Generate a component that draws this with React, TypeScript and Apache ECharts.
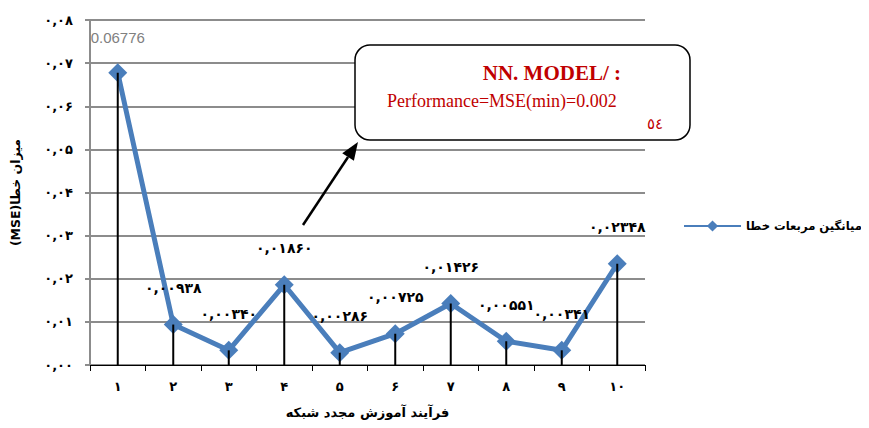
import React, { useEffect, useRef } from "react";
import * as echarts from "echarts";

const categories = ["۱", "۲", "۳", "۴", "۵", "۶", "۷", "۸", "۹", "۱۰"];
const mseValues = [0.06776, 0.00938, 0.0034, 0.0186, 0.00286, 0.00725, 0.01426, 0.00551, 0.00341, 0.02348];
const valueLabels = ["0.06776", "۰,۰۰۹۳۸", "۰,۰۰۳۴۰", "۰,۰۱۸۶۰", "۰,۰۰۲۸۶", "۰,۰۰۷۲۵", "۰,۰۱۴۲۶", "۰,۰۰۵۵۱", "۰,۰۰۳۴۱", "۰,۰۲۳۴۸"];
const yTickLabels = ["۰,۰۰", "۰,۰۱", "۰,۰۲", "۰,۰۳", "۰,۰۴", "۰,۰۵", "۰,۰۶", "۰,۰۷", "۰,۰۸"];
const seriesName = "میانگین مربعات خطا";
const xTitle = "فرآیند آموزش مجدد شبکه";
const yTitle = "(MSE)میزان خطا";
const boxTitle = "NN. MODEL/ :";
const boxLine = "Performance=MSE(min)=0.002";
const boxTail = "٥٤";

const FA = "DejaVu Sans, Arial, sans-serif";
const BLUE = "#4a7ebb";
const RED = "#c00000";

export default function App() {
  const ref = useRef<HTMLDivElement>(null);
  useEffect(() => {
    if (!ref.current) return;
    const chart = echarts.init(ref.current, undefined, { renderer: "svg" });
    const lineData = mseValues.map((v, i) =>
      i === 0
        ? {
            value: v,
            label: {
              formatter: valueLabels[i],
              color: "#808080",
              fontWeight: "normal",
              fontFamily: "Liberation Sans, Arial, sans-serif",
              fontSize: 15,
              distance: 18,
            },
          }
        : { value: v, label: { formatter: valueLabels[i] } }
    );
    // arrow geometry
    const tip = [358, 142];
    const start = [303, 225];
    const dx = tip[0] - start[0];
    const dy = tip[1] - start[1];
    const len = Math.sqrt(dx * dx + dy * dy);
    const ux = dx / len, uy = dy / len;
    const px = -uy, py = ux;
    const base = [tip[0] - 18 * ux, tip[1] - 18 * uy];
    chart.setOption({
      animation: false,
      backgroundColor: "#fff",
      grid: { left: 90, right: 224, top: 20, bottom: 63, containLabel: false },
      legend: {
        data: [seriesName],
        left: 683,
        top: 220,
        padding: 0,
        itemWidth: 57,
        itemHeight: 14,
        itemGap: 5,
        textStyle: { fontFamily: FA, fontWeight: "bold", fontSize: 11.6, color: "#000" },
      },
      xAxis: {
        type: "category",
        data: categories,
        boundaryGap: true,
        name: xTitle,
        nameLocation: "middle",
        nameGap: 41,
        nameTextStyle: { fontFamily: FA, fontWeight: "bold", fontSize: 13, color: "#000" },
        axisLine: { lineStyle: { color: "#000", width: 1 } },
        axisTick: { show: true, length: 6, lineStyle: { color: "#000" }, alignWithLabel: false },
        axisLabel: { fontFamily: FA, fontWeight: "bold", fontSize: 13, color: "#000", margin: 15 },
        splitLine: { show: false },
      },
      yAxis: {
        type: "value",
        min: 0,
        max: 0.08,
        interval: 0.01,
        name: yTitle,
        nameLocation: "middle",
        nameGap: 68,
        nameRotate: 90,
        nameTextStyle: { fontFamily: FA, fontWeight: "bold", fontSize: 12.5, color: "#000" },
        axisLine: { show: true, lineStyle: { color: "#8c8c8c", width: 2 } },
        axisTick: { show: true, length: 5, lineStyle: { color: "#8c8c8c", width: 2 } },
        axisLabel: {
          fontFamily: FA,
          fontWeight: "bold",
          fontSize: 13,
          color: "#000",
          margin: 17,
          formatter: (_v: number, idx: number) => yTickLabels[idx] ?? "",
        },
        splitLine: { show: true, lineStyle: { color: "#8c8c8c", width: 2 } },
      },
      series: [
        {
          name: seriesName,
          type: "line",
          data: lineData,
          z: 2,
          symbol: "diamond",
          symbolSize: 19,
          itemStyle: { color: BLUE },
          lineStyle: { color: BLUE, width: 5 },
          label: {
            show: true,
            position: "top",
            distance: 20,
            fontFamily: FA,
            fontWeight: "bold",
            fontSize: 14,
            color: "#000",
          },
        },
        {
          name: "drop",
          type: "bar",
          data: mseValues,
          barWidth: 2,
          z: 3,
          itemStyle: { color: "#000" },
          silent: true,
        },
      ],
      graphic: [
        {
          type: "rect",
          z: 20,
          shape: { x: 355, y: 45, width: 335, height: 95, r: 15 },
          style: { fill: "#fff", stroke: "#000", lineWidth: 1.5 },
        },
        {
          type: "text",
          z: 21,
          x: 621,
          y: 73,
          style: {
            text: boxTitle,
            fill: RED,
            font: "bold 21px 'Liberation Serif', 'Times New Roman', serif",
            textAlign: "right",
            textVerticalAlign: "middle",
          },
        },
        {
          type: "text",
          z: 21,
          x: 387,
          y: 101,
          style: {
            text: boxLine,
            fill: RED,
            font: "18px 'Liberation Serif', 'Times New Roman', serif",
            textAlign: "left",
            textVerticalAlign: "middle",
          },
        },
        {
          type: "text",
          z: 21,
          x: 655,
          y: 124,
          style: {
            text: boxTail,
            fill: RED,
            font: "15px 'DejaVu Sans', serif",
            textAlign: "center",
            textVerticalAlign: "middle",
          },
        },
        {
          type: "line",
          z: 21,
          shape: { x1: start[0], y1: start[1], x2: base[0], y2: base[1] },
          style: { stroke: "#000", lineWidth: 2.5 },
        },
        {
          type: "polygon",
          z: 21,
          shape: {
            points: [
              tip,
              [base[0] + 7 * px, base[1] + 7 * py],
              [base[0] - 7 * px, base[1] - 7 * py],
            ],
          },
          style: { fill: "#000" },
        },
      ],
    });
    return () => chart.dispose();
  }, []);
  return <div ref={ref} style={{ width: 869, height: 428, margin: -8 }} />;
}
